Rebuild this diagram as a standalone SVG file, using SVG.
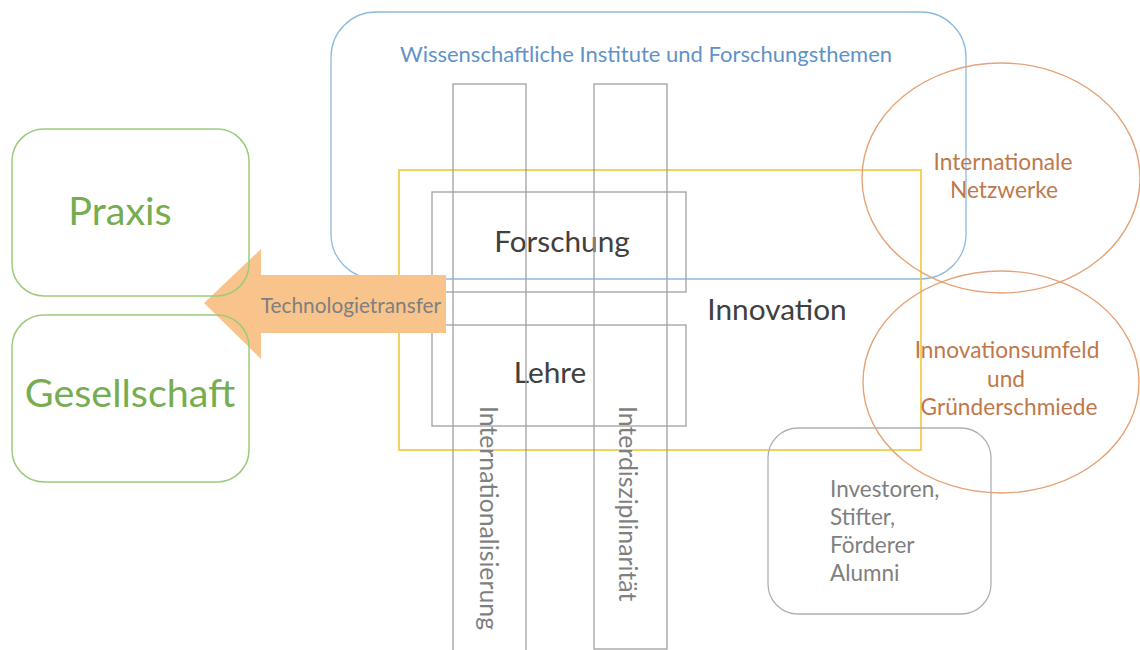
<svg xmlns="http://www.w3.org/2000/svg" width="1140" height="650" viewBox="0 0 1140 650">
<style>
text{font-family:Lato,"Open Sans","Liberation Sans",sans-serif}
.green{fill:none;stroke:#9ccb7c;stroke-width:1.5}
.gtxt{fill:#76ad50;font-size:39.5px;text-anchor:middle}
.box{fill:none;stroke:#a0a0a0;stroke-width:1.3}
.dark{fill:#404040;font-size:29.8px;text-anchor:middle}
.ell{fill:none;stroke:#e4a478;stroke-width:1.4}
.otxt{fill:#c0784a;font-size:22.7px;text-anchor:middle}
.grey{fill:#7f7f7f}
</style>
<rect width="1140" height="650" fill="#ffffff"/>
<g id="institute">
<rect x="331" y="12" width="635" height="267" rx="45" ry="45" fill="none" stroke="#8dbbe0" stroke-width="1.3"/>
<text x="646" y="62" font-size="22" fill="#5f93c8" text-anchor="middle">Wissenschaftliche Institute und Forschungsthemen</text>
</g>
<g id="innovation">
<rect x="399" y="170" width="522" height="280" fill="none" stroke="#ecc62a" stroke-width="1.5"/>
<text x="777" y="320" class="dark">Innovation</text>
</g>
<g id="forschung">
<rect x="432" y="192" width="254" height="100" class="box"/>
<text x="562" y="252" class="dark">Forschung</text>
</g>
<g id="lehre">
<rect x="432" y="325" width="254" height="101" class="box"/>
<text x="550" y="383" class="dark">Lehre</text>
</g>
<g id="internationalisierung">
<rect x="453" y="84" width="73" height="570" class="box"/>
<text transform="translate(480,406) rotate(90)" font-size="24.8" class="grey">Internationalisierung</text>
</g>
<g id="interdisziplinaritaet">
<rect x="594" y="84" width="73" height="565" class="box"/>
<text transform="translate(619,406) rotate(90)" font-size="24.8" class="grey">Interdisziplinarität</text>
</g>
<g id="connectors">
<g id="technologietransfer">
<polygon points="204,303 261,249 261,275 446,275 446,333 261,333 261,359" fill="#f8c48b"/>
<text x="351" y="313" font-size="20.8" class="grey" text-anchor="middle">Technologietransfer</text>
</g>
</g>
<g id="praxis">
<rect x="12" y="129" width="237" height="167" rx="32" ry="32" class="green"/>
<text x="120" y="225" class="gtxt">Praxis</text>
</g>
<g id="gesellschaft">
<rect x="12" y="315" width="237" height="167" rx="32" ry="32" class="green"/>
<text x="130" y="407" class="gtxt">Gesellschaft</text>
</g>
<g id="netzwerke">
<ellipse cx="1001" cy="178" rx="139" ry="115" class="ell"/>
<text x="1003" y="170" class="otxt">Internationale</text>
<text x="1004" y="198" class="otxt">Netzwerke</text>
</g>
<g id="gruenderschmiede">
<ellipse cx="1001" cy="382" rx="138" ry="111" class="ell"/>
<text x="1007" y="358" class="otxt">Innovationsumfeld</text>
<text x="1006" y="387" class="otxt">und</text>
<text x="1009" y="415" class="otxt">Gründerschmiede</text>
</g>
<g id="investoren">
<rect x="768" y="428" width="223" height="186" rx="30" ry="30" fill="none" stroke="#b0b0b0" stroke-width="1.3"/>
<text font-size="22.5" class="grey"><tspan x="830" y="497">Investoren,</tspan><tspan x="830" y="525">Stifter,</tspan><tspan x="830" y="553">Förderer</tspan><tspan x="830" y="581">Alumni</tspan></text>
</g>
</svg>
